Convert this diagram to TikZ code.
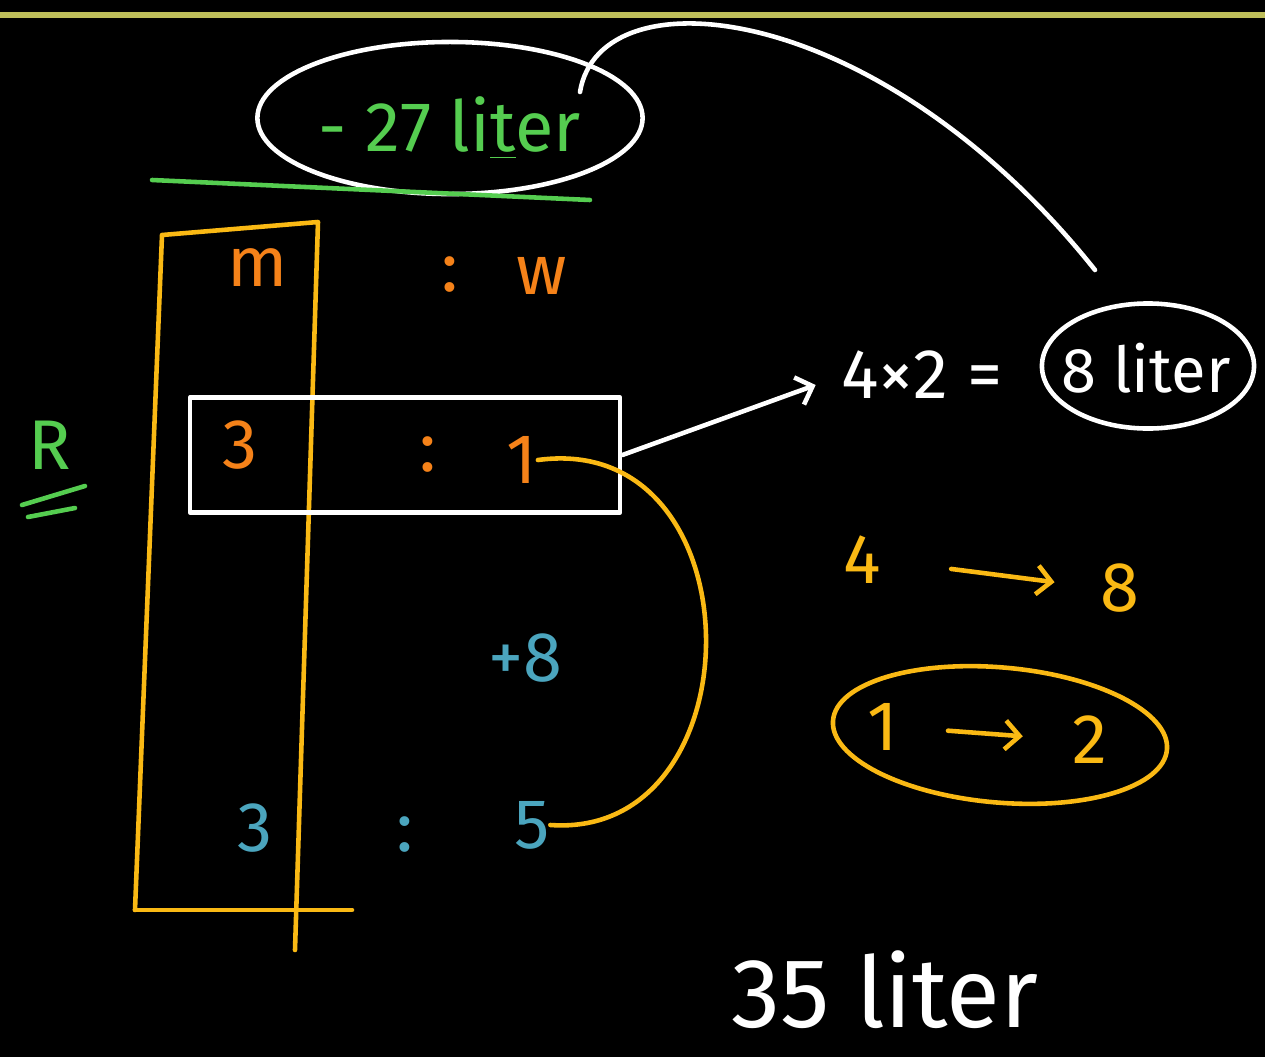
\documentclass[tikz,border=0pt]{standalone}
\usepackage{fontspec}
\setmainfont{Fira Sans}
\usetikzlibrary{arrows.meta,shapes.geometric,positioning}
\definecolor{topline}{RGB}{190,190,90}
\definecolor{chalkyellow}{RGB}{250,185,20}
\definecolor{chalkorange}{RGB}{245,130,25}
\definecolor{chalkblue}{RGB}{75,165,190}
\definecolor{chalkgreen}{RGB}{85,205,80}

\begin{document}
\begin{tikzpicture}[x=0.01cm, y=-0.01cm, line cap=round, line join=round,
        chalk/.style = {line width=1.3pt},
        txt/.style = {inner sep=0pt, font=\fontsize{20}{24}\selectfont},
        bigtxt/.style = {inner sep=0pt, font=\fontsize{28}{32}\selectfont},
        ring/.style = {ellipse, draw, chalk, inner sep=0pt}]
        % board
        \fill[black](0,0)rectangle(1265,1057);
        \useasboundingbox(0,0)rectangle(1265,1057);
        \draw[topline, line width=1.6pt](0,15)to(1265,15);
        % points
        \coordinate(tl)at(162,235);
        \coordinate(tr)at(318,222);
        \coordinate(bl)at(135,910);
        \coordinate(br)at(295,950);
        \coordinate(be)at(352,910);
        \coordinate(start)at(580,92);
        \coordinate(hook)at(1095,270);
        % taken out
        \node[ring, white, minimum width = 3.85cm, minimum height = 1.52cm](lost)at(450,118){};
        \node[txt, text = chalkgreen](lostt)at(450,128){- 27 li\underline{t}er};
        \path[draw, chalkgreen, chalk](152,180)to(590,200);
        % table
        \path[draw, chalkyellow, chalk](bl)to(tl)to(tr)to(br);
        \path[draw, chalkyellow, chalk](bl)to(be);
        \node[txt, text = chalkorange](m)at(258,268){m};
        \node[txt, text = chalkorange](mw)at(450,275){:};
        \node[txt, text = chalkorange](w)at(542,276){w};
        \node[txt, text = chalkorange](r3)at(240,445){3};
        \node[txt, text = chalkorange](rc)at(428,455){:};
        \node[txt, text = chalkorange](r1)at(522,460){1};
        \node[draw = white, chalk, minimum width = 4.3cm, minimum height = 1.15cm](box)at(405,455){};
        \node[txt, text = chalkblue](add)at(525,658){+8};
        \node[txt, text = chalkblue](n3)at(255,828){3};
        \node[txt, text = chalkblue](nc)at(405,835){:};
        \node[txt, text = chalkblue](n5)at(532,825){5};
        \path[draw, chalkyellow, chalk](r1.east)..controls(760,430)and(760,840)..(n5.east);
        % ratio name
        \node[txt, text = chalkgreen](R)at(50,445){R};
        \path[draw, chalkgreen, chalk](22,505)to(85,486);
        \path[draw, chalkgreen, chalk](28,517)to(75,508);
        % one part
        \node[txt, text = white](calc)at(922,375){4×2 =};
        \node[ring, white, minimum width = 2.12cm, minimum height = 1.25cm](eight)at(1148,366){};
        \node[txt, text = white, font = \fontsize{18}{22}\selectfont](eightt)at(1146,368){8 liter};
        \path[draw, white, chalk, -{Straight Barb}](box.east)to([xshift=-0.25cm, yshift=-0.1cm]calc.west);
        \path[draw, white, chalk](start)..controls(600,-30)and(880,0)..(hook);
        % doubling
        \node[txt, text = chalkyellow](four)at(862,560){4};
        \node[txt, text = chalkyellow](eightb)at(1120,588){8};
        \path[draw, chalkyellow, chalk, -{Straight Barb}, shorten <= 20pt, shorten >= 13pt](four.east)to(eightb.west);
        \node[ring, chalkyellow, minimum width = 3.35cm, minimum height = 1.35cm, rotate = -5](pair)at(1000,735){};
        \node[txt, text = chalkyellow](one)at(883,727){1};
        \node[txt, text = chalkyellow](two)at(1090,740){2};
        \path[draw, chalkyellow, chalk, -{Straight Barb}, shorten <= 14pt, shorten >= 14pt](one.east)to(two.west);
        % total
        \node[bigtxt, text = white](total)at(885,990){35 liter};
    \end{tikzpicture}
\end{document}
